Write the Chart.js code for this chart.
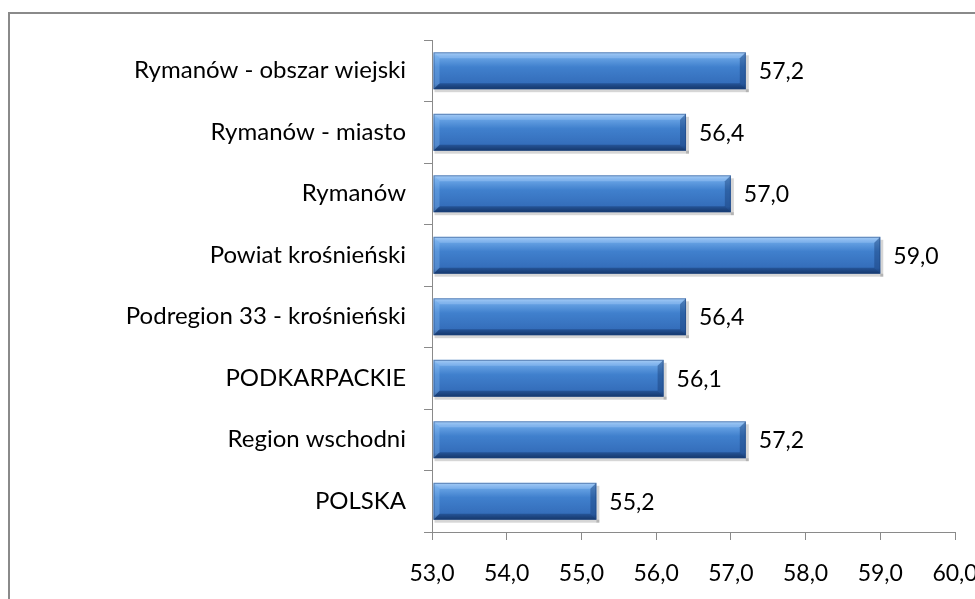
<!DOCTYPE html>
<html>
<head>
<meta charset="utf-8">
<script src="https://cdn.jsdelivr.net/npm/chart.js@4"></script>
<style>
    body { margin: 0; background: #fff; overflow: hidden; }
    .wrap { position: relative; width: 975px; height: 599px; }
    .frame {
        position: absolute; left: 8px; top: 12px; width: 1000px; height: 620px;
        border: 2px solid #8a8a8a; box-sizing: border-box; pointer-events: none;
    }
</style>
</head>
<body>
<div class="wrap">
    <canvas id="chart" width="975" height="599"></canvas>
    <div class="frame"></div>
</div>
<script>
const categories = [
    "Rymanów - obszar wiejski",
    "Rymanów - miasto",
    "Rymanów",
    "Powiat krośnieński",
    "Podregion 33 - krośnieński",
    "PODKARPACKIE",
    "Region wschodni",
    "POLSKA"
];
const values = [57.2, 56.4, 57.0, 59.0, 56.4, 56.1, 57.2, 55.2];
const axisMin = 53;
const axisMax = 60;

const FONT = "Lato, 'Open Sans', sans-serif";
const FONT_SIZE = 23;
const fmt = v => v.toFixed(1).replace(".", ",");

// bevelled bar look + value labels
const bevelBars = {
    id: "bevelBars",
    afterDatasetsDraw(chart) {
        const ctx = chart.ctx;
        const meta = chart.getDatasetMeta(0);
        meta.data.forEach((bar, i) => {
            const { x, y, base, height } = bar.getProps(["x", "y", "base", "height"], true);
            const top = y - height / 2, bot = y + height / 2;
            const left = Math.min(base, x) + 1, right = Math.max(base, x);
            const b = 6;
            ctx.save();
            // shadow
            ctx.fillStyle = "rgba(0,0,0,0.16)";
            ctx.fillRect(left + 1, bot, right - left + 2, 3);
            ctx.fillRect(right, top + 3, 3, height);
            // body
            const g = ctx.createLinearGradient(0, top, 0, bot);
            g.addColorStop(0, "#9cc6f2");
            g.addColorStop(0.12, "#6aa5e6");
            g.addColorStop(0.4, "#4080cd");
            g.addColorStop(0.85, "#346dba");
            g.addColorStop(1, "#1c427a");
            ctx.fillStyle = g;
            ctx.fillRect(left, top, right - left, height);
            // top bevel
            ctx.fillStyle = "rgba(190,220,255,0.3)";
            ctx.beginPath();
            ctx.moveTo(left, top); ctx.lineTo(right, top);
            ctx.lineTo(right - b, top + b); ctx.lineTo(left + b, top + b);
            ctx.closePath(); ctx.fill();
            // bottom bevel
            ctx.fillStyle = "rgba(10,35,80,0.35)";
            ctx.beginPath();
            ctx.moveTo(left, bot); ctx.lineTo(right, bot);
            ctx.lineTo(right - b, bot - b); ctx.lineTo(left + b, bot - b);
            ctx.closePath(); ctx.fill();
            // right bevel
            ctx.fillStyle = "rgba(20,55,110,0.4)";
            ctx.beginPath();
            ctx.moveTo(right, top); ctx.lineTo(right, bot);
            ctx.lineTo(right - b, bot - b); ctx.lineTo(right - b, top + b);
            ctx.closePath(); ctx.fill();
            // left bevel
            ctx.fillStyle = "rgba(150,200,250,0.3)";
            ctx.beginPath();
            ctx.moveTo(left, top); ctx.lineTo(left, bot);
            ctx.lineTo(left + b, bot - b); ctx.lineTo(left + b, top + b);
            ctx.closePath(); ctx.fill();
            // outline
            ctx.strokeStyle = "rgba(30,70,130,0.55)";
            ctx.lineWidth = 1;
            ctx.strokeRect(left + 0.5, top + 0.5, right - left - 1, height - 1);
            // value label
            ctx.fillStyle = "#000";
            ctx.font = FONT_SIZE + "px " + FONT;
            ctx.textBaseline = "middle";
            ctx.textAlign = "left";
            ctx.fillText(fmt(values[i]), right + 13, y + 1);
            ctx.restore();
        });
    }
};

const chart = new Chart(document.getElementById("chart").getContext("2d"), {
    type: "bar",
    data: {
        labels: categories,
        datasets: [{
            data: values,
            base: axisMin,
            backgroundColor: "rgba(0,0,0,0)",
            borderWidth: 0,
            barPercentage: 0.6,
            categoryPercentage: 1
        }]
    },
    options: {
        indexAxis: "y",
        responsive: false,
        animation: false,
        layout: { padding: { top: 40, left: 0, right: 0, bottom: 0 } },
        plugins: { legend: { display: false }, tooltip: { enabled: false } },
        scales: {
            x: {
                min: axisMin,
                max: axisMax,
                ticks: {
                    stepSize: 1,
                    color: "#000",
                    font: { family: FONT, size: FONT_SIZE },
                    padding: 20,
                    maxRotation: 0,
                    callback: v => fmt(v)
                },
                grid: { drawOnChartArea: false, drawTicks: true, tickLength: 8, color: "#8a8a8a" },
                border: { color: "#8a8a8a", width: 1 },
                afterFit: s => { s.height = 67; s.paddingRight = 20; }
            },
            y: {
                ticks: {
                    color: "#000",
                    font: { family: FONT, size: 24 },
                    padding: 18
                },
                grid: { drawOnChartArea: false, drawTicks: true, tickLength: 8, color: "#8a8a8a", offset: true },
                border: { color: "#8a8a8a", width: 1 },
                afterFit: s => { s.width = 432; }
            }
        }
    },
    plugins: [bevelBars]
});
</script>
</body>
</html>
